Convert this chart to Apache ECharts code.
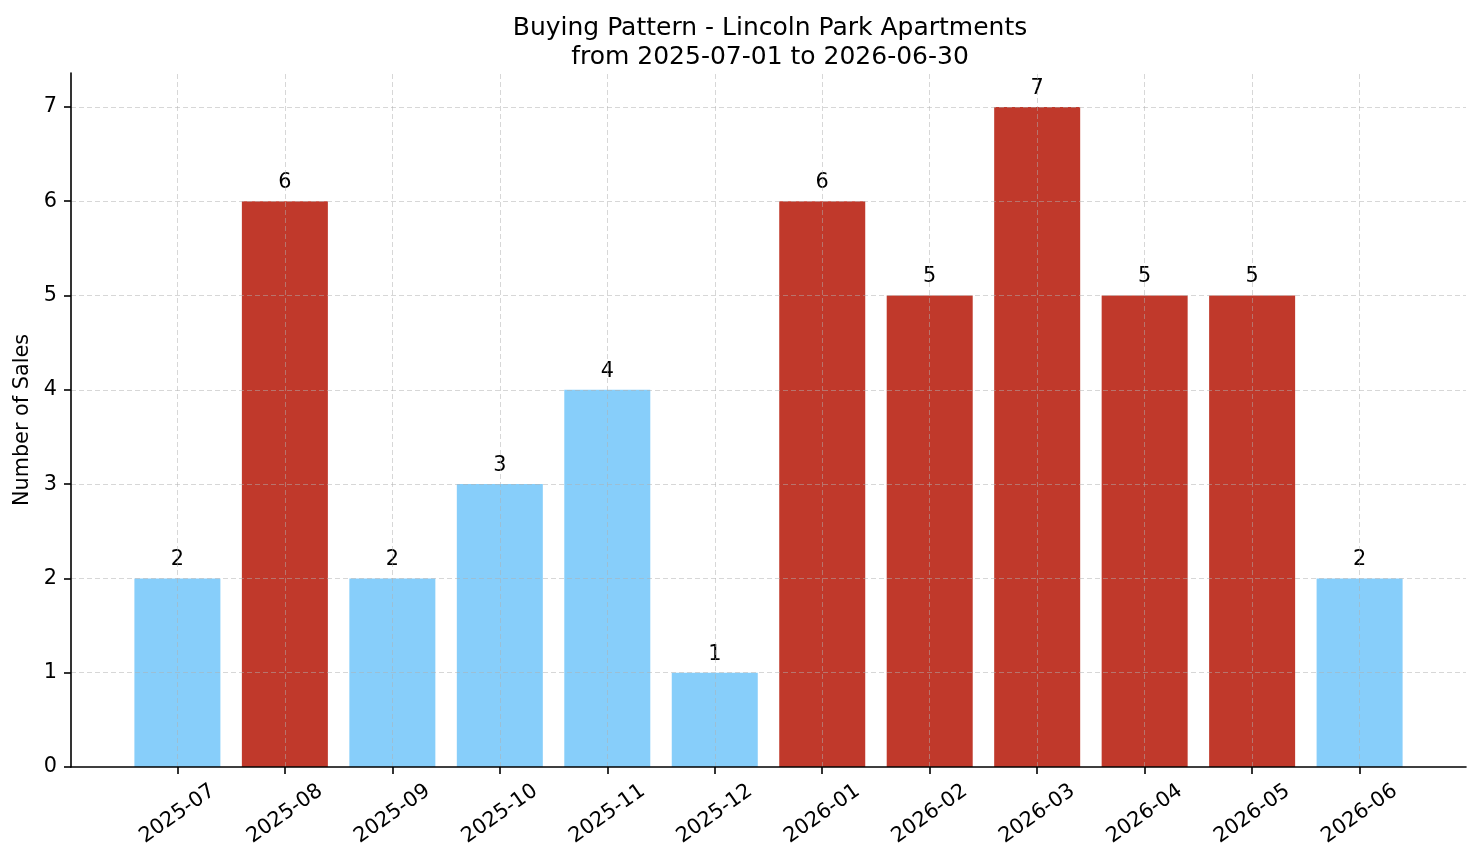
<!DOCTYPE html>
<html>
<head>
<meta charset="utf-8">
<script src="https://cdn.jsdelivr.net/npm/echarts@6/dist/echarts.min.js"></script>
<style>
  html, body { margin: 0; padding: 0; background: #fff; }
  #chart { width: 1481px; height: 863px; }
</style>
</head>
<body>
<div id="chart"></div>
<script>
// monthly sales
var months = ['2025-07', '2025-08', '2025-09', '2025-10', '2025-11', '2025-12',
              '2026-01', '2026-02', '2026-03', '2026-04', '2026-05', '2026-06'];
var sales = [2, 6, 2, 3, 4, 1, 6, 5, 7, 5, 5, 2];
var yTicks = [0, 1, 2, 3, 4, 5, 6, 7];

var FONT = 'DejaVu Sans';
var avg = sales.reduce(function (a, b) { return a + b; }, 0) / sales.length;
var xIdx = months.map(function (m, i) { return i; });

var chart = echarts.init(document.getElementById('chart'));

// dashed grid lines, drawn over the bars like matplotlib
var gridLines = [];
xIdx.forEach(function (i) { gridLines.push({ xAxis: i }); });
yTicks.forEach(function (v) { if (v > 0) gridLines.push({ yAxis: v }); });

var option = {
  animation: false,
  title: {
    text: 'Buying Pattern - Lincoln Park Apartments\nfrom 2025-07-01 to 2026-06-30',
    left: 765,
    textAlign: 'center',
    top: 9,
    textStyle: { fontFamily: FONT, fontSize: 25, fontWeight: 'normal', color: '#000', lineHeight: 29 }
  },
  grid: { left: 71, right: 15, top: 73, bottom: 96 },
  xAxis: {
    type: 'value',
    min: -0.99,
    max: 11.99,
    z: 5,
    axisLine: { show: true, onZero: false, lineStyle: { color: '#000', width: 1.6 } },
    axisTick: { show: true, length: 7, customValues: xIdx, lineStyle: { color: '#000', width: 1.6 } },
    axisLabel: {
      customValues: xIdx,
      formatter: function (v) { return months[v]; },
      rotate: 35,
      align: 'center',
      verticalAlign: 'middle',
      margin: 47,
      fontFamily: FONT, fontSize: 20.8, color: '#000'
    },
    splitLine: { show: false }
  },
  yAxis: {
    type: 'value',
    min: 0,
    max: 7.36,
    z: 5,
    name: 'Number of Sales',
    nameLocation: 'middle',
    nameRotate: 90,
    nameGap: 36,
    nameTextStyle: { fontFamily: FONT, fontSize: 20.8, color: '#000' },
    axisLine: { show: true, onZero: false, lineStyle: { color: '#000', width: 1.6 } },
    axisTick: { show: true, length: 7, customValues: yTicks, lineStyle: { color: '#000', width: 1.6 } },
    axisLabel: { customValues: yTicks, margin: 14, fontFamily: FONT, fontSize: 20.8, color: '#000' },
    splitLine: { show: false }
  },
  series: [{
    type: 'bar',
    barWidth: 86,
    data: sales.map(function (v, i) {
      return { value: [i, v], itemStyle: { color: v > avg ? '#c0392b' : '#87cefa' } };
    }),
    label: {
      show: true,
      position: 'top',
      distance: 8,
      formatter: function (p) { return p.value[1]; },
      fontFamily: FONT, fontSize: 20.8, color: '#000', lineHeight: 21
    },
    markLine: {
      silent: true,
      symbol: 'none',
      label: { show: false },
      lineStyle: { color: '#b0b0b0', opacity: 0.5, width: 1, type: [5, 3] },
      data: gridLines
    }
  }]
};

chart.setOption(option);
</script>
</body>
</html>
